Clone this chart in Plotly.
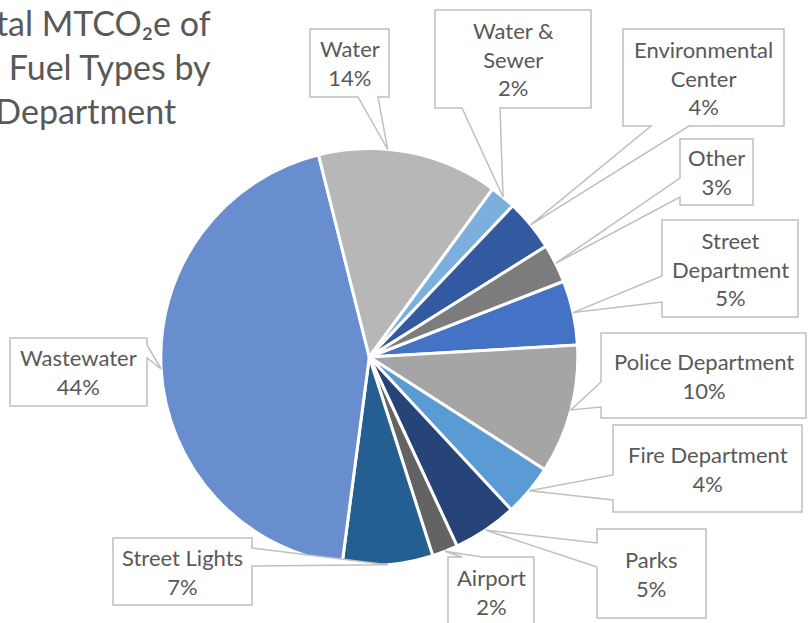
import math
import plotly.graph_objects as go

W, H = 812, 623

# Emissions share by department (percent of total MTCO2e), in drawing order
categories = [
    "Street Department", "Police Department", "Fire Department", "Parks",
    "Airport", "Street Lights", "Wastewater", "Water", "Water & Sewer",
    "Environmental Center", "Other",
]
values = [5, 10, 4, 5, 2, 7, 44, 14, 2, 4, 3]
colors = [
    "#4472C4", "#A5A5A5", "#5B9BD5", "#264478", "#636363", "#255E91",
    "#698ED0", "#B7B7B7", "#7CAFDD", "#335AA1", "#7C7C7C",
]

title_text = "Total MTCO₂e of<br>All Fuel Types by<br>Department"

FONT = "Lato, 'Open Sans', sans-serif"
TEXT_COLOR = "#595959"
BORDER = "#BFBFBF"

# Pie placement in pixels
CX, CY, R = 369.3, 357.0, 208.5
ROTATION = 68.7


def fx(x):
    return x / W


def fy(y):
    return 1 - y / H


# Callout boxes: box (x0, y0, x1, y1) in px, side of the pointer, pointer base
callouts = {
    "Street Department": dict(box=(662, 220, 798, 317), side="left", base=(276, 302), wrap=True),
    "Police Department": dict(box=(601, 333, 806, 418), side="left", base=(382, 407)),
    "Fire Department": dict(box=(613, 425, 802, 512), side="left", base=(475, 500)),
    "Parks": dict(box=(597, 529, 706, 618), side="left", base=(543, 567)),
    "Airport": dict(box=(448, 557, 534, 626), side="top", base=(462, 482)),
    "Street Lights": dict(box=(113, 538, 252, 605), side="right", base=(548, 566)),
    "Wastewater": dict(box=(10, 338, 147, 406), side="right", base=(345, 358)),
    "Water": dict(box=(310, 29, 389, 97), side="bottom", base=(358, 378), frac=0.38),
    "Water & Sewer": dict(box=(435, 10, 591, 108), side="bottom", base=(462, 500), wrap=True),
    "Environmental Center": dict(box=(623, 29, 784, 126), side="bottom", base=(651, 689), wrap=True),
    "Other": dict(box=(680, 139, 753, 205), side="left", base=(178, 197)),
}

fig = go.Figure()
fig.add_trace(go.Pie(
    labels=categories,
    values=values,
    sort=False,
    direction="clockwise",
    rotation=ROTATION,
    textinfo="none",
    hoverinfo="label+percent",
    marker=dict(colors=colors, line=dict(color="white", width=3)),
    domain=dict(x=[fx(CX - R), fx(CX + R)], y=[fy(CY + R), fy(CY - R)]),
    showlegend=False,
))

total = sum(values)
shapes = []
annotations = []
start = ROTATION
for name, v in zip(categories, values):
    span = 360.0 * v / total
    c = callouts[name]
    # pointer tip sits on the rim inside the slice
    ang = math.radians(start + span * c.get("frac", 0.5))
    start += span
    tx = CX + R * math.sin(ang)
    ty = CY - R * math.cos(ang)
    x0, y0, x1, y1 = c["box"]
    b0, b1 = c["base"]
    side = c["side"]
    if side == "bottom":
        pts = [(x0, y0), (x1, y0), (x1, y1), (b1, y1), (tx, ty), (b0, y1), (x0, y1)]
    elif side == "left":
        pts = [(x0, y0), (x1, y0), (x1, y1), (x0, y1), (x0, b1), (tx, ty), (x0, b0)]
    elif side == "right":
        pts = [(x0, y0), (x1, y0), (x1, b0), (tx, ty), (x1, b1), (x1, y1), (x0, y1)]
    else:
        pts = [(x0, y0), (b0, y0), (tx, ty), (b1, y0), (x1, y0), (x1, y1), (x0, y1)]
    path = "M " + " L ".join(f"{fx(px):.5f},{fy(py):.5f}" for px, py in pts) + " Z"
    shapes.append(dict(type="path", path=path, xref="paper", yref="paper",
                       fillcolor="white", line=dict(color=BORDER, width=1.5)))

    label = name
    if c.get("wrap"):
        head, tail = name.rsplit(" ", 1)
        label = head + "<br>" + tail
    pct = round(100.0 * v / total)
    annotations.append(dict(
        text=f"{label}<br>{pct}%", x=fx((x0 + x1) / 2), y=fy((y0 + y1) / 2),
        xref="paper", yref="paper", xanchor="center", yanchor="middle",
        align="center", showarrow=False,
        font=dict(family=FONT, size=22, color=TEXT_COLOR),
    ))

annotations.append(dict(
    text=title_text, x=fx(86), y=fy(66), xref="paper", yref="paper",
    xanchor="center", yanchor="middle", align="center", showarrow=False,
    font=dict(family=FONT, size=34, color=TEXT_COLOR),
))

fig.update_layout(
    width=W, height=H,
    margin=dict(l=0, r=0, t=0, b=0),
    paper_bgcolor="white", plot_bgcolor="white",
    shapes=shapes, annotations=annotations,
)

fig.write_html("out.html")
